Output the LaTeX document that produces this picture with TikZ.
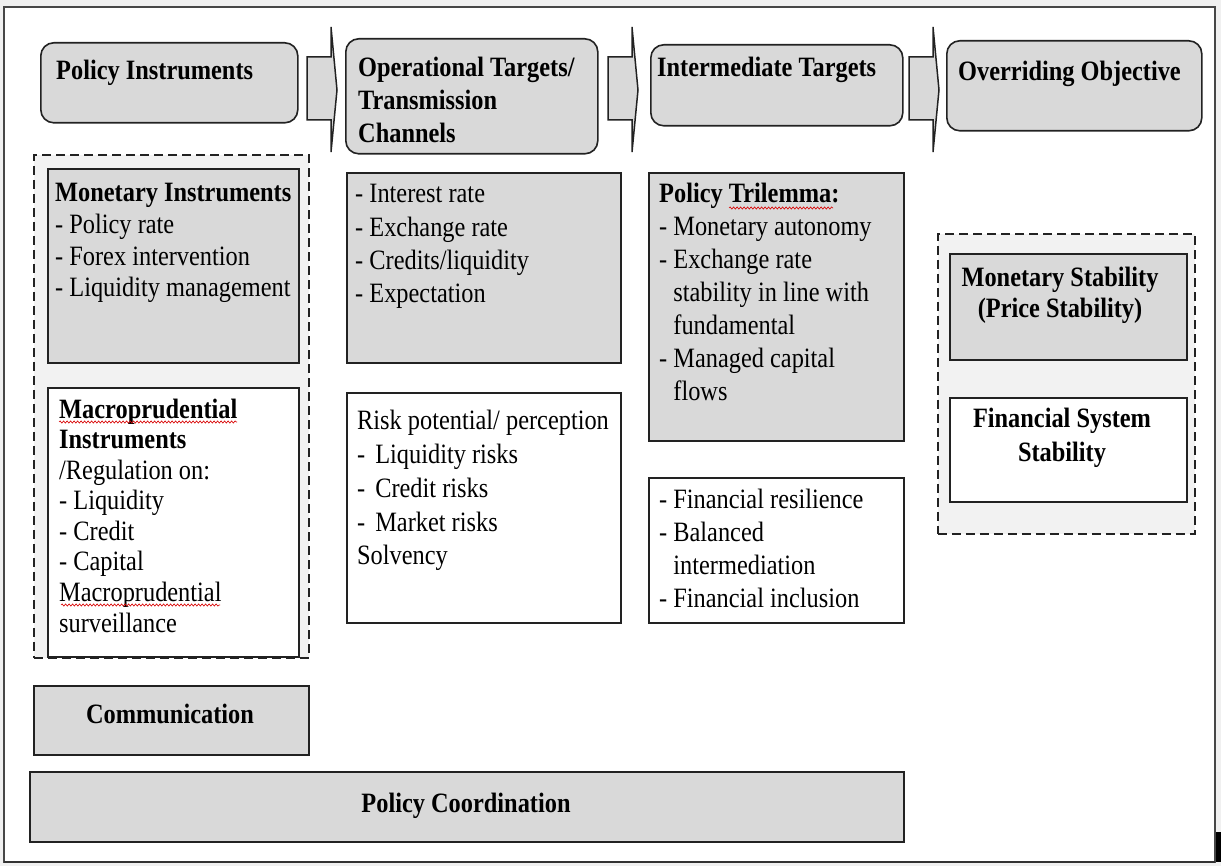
\documentclass[tikz,border=0pt]{standalone}
\usepackage{fontspec}
\setmainfont{Liberation Serif}[FakeStretch=0.87]
\usetikzlibrary{decorations.pathmorphing}

\definecolor{boxgray}{HTML}{D9D9D9}
\definecolor{pale}{HTML}{F2F2F2}
\definecolor{edge}{HTML}{222222}
\definecolor{framecol}{HTML}{474747}
\definecolor{outside}{HTML}{F0F0F0}

\tikzset{
  graybox/.style={draw=edge, line width=1.7pt, fill=boxgray, inner sep=0pt, anchor=north west},
  whitebox/.style={draw=edge, line width=1.7pt, fill=white, inner sep=0pt, anchor=north west},
  headbox/.style={graybox, line width=1.6pt, rounded corners=13pt},
  dashbox/.style={draw=edge, line width=1.9pt, dash pattern=on 9pt off 5pt, fill=pale, inner sep=0pt, anchor=north west},
  txt/.style={inner sep=0pt, anchor=base west, text=black},
  ctxt/.style={inner sep=0pt, anchor=base, text=black},
  blockarrow/.style={draw=edge, line width=1.5pt, fill=boxgray, line join=miter},
  squiggle/.style={draw=red!85!black, line width=0.6pt, decorate,
                   decoration={snake, amplitude=1.1pt, segment length=3.5pt}},
}
\newcommand\txtsize[1]{\fontsize{28}{#1}\selectfont}

\begin{document}
\begin{tikzpicture}[x=1pt, y=-1pt]
  \useasboundingbox (0,0) rectangle (1221,866);
  \fill[outside] (0,0) rectangle (1221,866);

  % page frame
  \draw[framecol, line width=1.7pt, fill=white] (4,7) rectangle (1215,862);
  \draw[framecol!70!black, line width=2.4pt] (4,862) -- (1215,862);
  \fill[black] (1216,832) rectangle (1221,862);

  % header row
  \node[headbox, minimum width=257pt, minimum height=80pt]  (pi) at (40,42) {};
  \node[headbox, minimum width=252pt, minimum height=115pt] (op) at (345,38) {};
  \node[headbox, minimum width=252pt, minimum height=81pt]  (it) at (650,44) {};
  \node[headbox, minimum width=255pt, minimum height=90pt]  (oo) at (946,40) {};

  \node[txt] (pi-t) at (56,80) {\txtsize{33}\textbf{Policy Instruments}};
  \node[txt] (op-t) at (358,77) {\txtsize{33}\begin{tabular}[t]{@{}l@{}}
      \textbf{Operational Targets/}\\ \textbf{Transmission}\\ \textbf{Channels}\end{tabular}};
  \node[txt] (it-t) at (657,77) {\txtsize{33}\textbf{Intermediate Targets}};
  \node[txt] (oo-t) at (958,81) {\txtsize{33}\textbf{Overriding Objective}};

  % block arrows between the header boxes
  \foreach \ax in {307, 608, 909}{
    \draw[blockarrow, shift={(\ax,0)}] (0,57) -- (24,57) -- (24,27) -- (30,90)
        -- (24,152) -- (24,120) -- (0,120) -- cycle;
  }

  % policy instruments column
  \node[dashbox, minimum width=275pt, minimum height=503pt] (dashl) at (33,154) {};
  \node[graybox,  minimum width=251pt, minimum height=194pt] (mi) at (47,168) {};
  \node[whitebox, minimum width=251pt, minimum height=269pt] (macro) at (47,387) {};

  \node[txt] (mi-t) at (55,202) {\txtsize{31.6}\begin{tabular}[t]{@{}l@{}}
      \textbf{Monetary Instruments}\\ - Policy rate\\ - Forex intervention\\
      - Liquidity management\end{tabular}};
  \node[txt] (macro-t) at (59,418) {\txtsize{30.6}\begin{tabular}[t]{@{}l@{}}
      \textbf{Macroprudential}\\ \textbf{Instruments}\\ /Regulation on:\\
      - Liquidity\\ - Credit\\ - Capital\\ Macroprudential\\ surveillance\end{tabular}};
  \draw[squiggle] (59,422) -- (237,422);
  \draw[squiggle] (61,605) -- (220,605);

  % operational targets column
  \node[graybox,  minimum width=274pt, minimum height=190pt] (opl) at (346,172) {};
  \node[whitebox, minimum width=274pt, minimum height=230pt] (risk) at (346,392) {};

  \node[txt] (opl-t) at (355,203) {\txtsize{33.3}\begin{tabular}[t]{@{}l@{}}
      - Interest rate\\ - Exchange rate\\ - Credits/liquidity\\ - Expectation\end{tabular}};
  \node[txt] (risk-t) at (357,430) {\txtsize{33.7}\begin{tabular}[t]{@{}l@{}}
      Risk potential/ perception\\ -\hspace{10pt}Liquidity risks\\
      -\hspace{10pt}Credit risks\\ -\hspace{10pt}Market risks\\ Solvency\end{tabular}};

  % intermediate targets column
  \node[graybox,  minimum width=255pt, minimum height=268pt] (tri) at (648,172) {};
  \node[whitebox, minimum width=255pt, minimum height=145pt] (fin) at (648,477) {};

  \node[txt] (tri-t) at (659,203) {\txtsize{33}\begin{tabular}[t]{@{}l@{}}
      \textbf{Policy Trilemma:}\\ - Monetary autonomy\\ - Exchange rate\\
      \phantom{- }stability in line with\\ \phantom{- }fundamental\\
      - Managed capital\\ \phantom{- }flows\end{tabular}};
  \draw[squiggle] (729,208) -- (833,208);
  \node[txt] (fin-t) at (659,508) {\txtsize{33.3}\begin{tabular}[t]{@{}l@{}}
      - Financial resilience\\ - Balanced\\ \phantom{- }intermediation\\
      - Financial inclusion\end{tabular}};

  % overriding objective column
  \node[dashbox,  minimum width=257pt, minimum height=300pt] (dashr) at (937,233) {};
  \node[graybox,  minimum width=237pt, minimum height=106pt] (ms) at (949,253) {};
  \node[whitebox, minimum width=237pt, minimum height=104pt] (fss) at (949,397) {};

  \node[ctxt] (ms-t) at (1060,287) {\txtsize{31}\begin{tabular}[t]{@{}c@{}}
      \textbf{Monetary Stability}\\ \textbf{(Price Stability)}\end{tabular}};
  \node[ctxt] (fss-t) at (1062,428) {\txtsize{34}\begin{tabular}[t]{@{}c@{}}
      \textbf{Financial System}\\ \textbf{Stability}\end{tabular}};

  % bottom bars
  \node[graybox, minimum width=275pt, minimum height=69pt] (comm) at (33,685) {};
  \node[graybox, minimum width=874pt, minimum height=70pt] (coord) at (29,771) {};
  \node[ctxt] (comm-t) at (170,723) {\txtsize{33}\textbf{Communication}};
  \node[ctxt] (coord-t) at (466,812) {\txtsize{33}\textbf{Policy Coordination}};
\end{tikzpicture}
\end{document}
